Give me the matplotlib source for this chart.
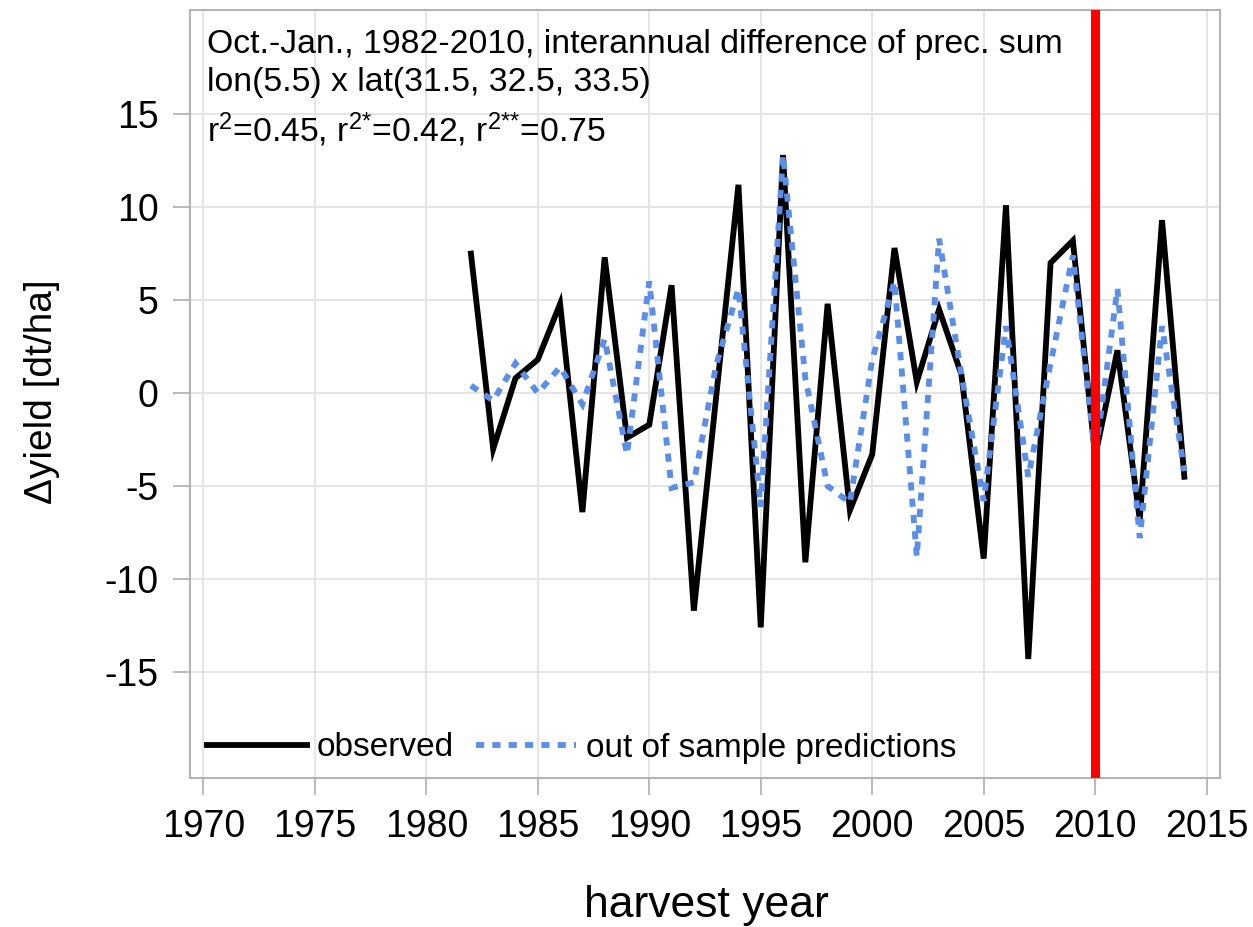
import matplotlib
matplotlib.use("Agg")
import matplotlib.pyplot as plt
import numpy as np

plt.rcParams['font.family'] = ['Liberation Sans', 'DejaVu Sans']
plt.rcParams['mathtext.fontset'] = 'custom'
plt.rcParams['mathtext.rm'] = 'Liberation Sans'
plt.rcParams['mathtext.it'] = 'Liberation Sans'

years = list(range(1982, 2015))
observed = [7.5, -3.0, 0.8, 1.8, 4.8, -6.4, 7.3, -2.4, -1.7, 5.8, -11.7,
            -0.2, 11.2, -12.6, 12.8, -9.1, 4.8, -6.3, -3.3, 7.8, 0.6,
            4.5, 1.0, -8.9, 10.1, -14.3, 7.0, 8.2, -3.4, 2.3, -6.8,
            9.3, -4.5]
predicted = [0.4, -0.4, 1.6, 0.0, 1.4, -0.6, 2.9, -3.3, 6.0, -5.1, -4.8,
             1.5, 5.6, -6.1, 12.8, 0.8, -5.0, -5.9, 1.8, 6.0, -8.8,
             8.3, 1.0, -5.8, 3.6, -4.5, 1.6, 7.4, -3.4, 5.6, -7.8,
             3.6, -4.2]
xticks = list(range(1970, 2016, 5))
yticks = [-15, -10, -5, 0, 5, 10, 15]
split_year = 2010
annot_lines = ["Oct.-Jan., 1982-2010, interannual difference of prec. sum",
               "lon(5.5) x lat(31.5, 32.5, 33.5)",
               r"r$^{2}$=0.45, r$^{2{*}}$=0.42, r$^{2{*}{*}}$=0.75"]

W, H = 1253, 927
fig = plt.figure(figsize=(W/100, H/100), dpi=100)
ax = fig.add_axes([190/W, 1-778/H, (1220-190)/W, (778-10)/H])

ax.plot(years, observed, color='black', lw=4.2, solid_joinstyle='miter',
        label='observed', zorder=3)
ax.plot(years, predicted, color='#5b8ee8', lw=4.2, linestyle=(0, (1.4, 1.4)),
        dash_capstyle='butt', dash_joinstyle='miter',
        label='out of sample predictions', zorder=4)
ax.axvline(split_year, color='#ff0000', lw=6.5, zorder=5)

ax.set_xlim(1969.4, 2015.6)
ax.set_ylim(-20.7, 20.6)
ax.set_xticks(xticks)
ax.set_yticks(yticks)
ax.set_xticklabels([str(v) for v in xticks])
ax.set_yticklabels([str(v) for v in yticks])
ax.grid(True, color='#e3e3e3', lw=1.3, zorder=0)
ax.set_axisbelow(True)
for s in ax.spines.values():
    s.set_color('#b4b4b4')
    s.set_linewidth(1.5)
ax.tick_params(axis='both', length=12.5, width=1.3, color='#b4b4b4',
               labelsize=27, pad=10)

fig.text(706/W, 1-905/H, 'harvest year', fontsize=32, ha='center', va='center')
fig.text(42/W, 1-392/H, 'Δyield [dt/ha]', fontsize=28, ha='center',
         va='center', rotation=90)

ys = [45, 83, 130]
for txt, yp in zip(annot_lines, ys):
    fig.text(207/W, 1-yp/H, txt, fontsize=24.3, va='center', ha='left')

leg = ax.legend(loc='center left', ncol=2, frameon=False, fontsize=24,
                handlelength=3.0, columnspacing=0.66, handletextpad=0.3,
                borderpad=0, borderaxespad=0,
                bbox_to_anchor=(207/W, 1-748/H), bbox_transform=fig.transFigure)

fig.savefig('out.png', dpi=100)
